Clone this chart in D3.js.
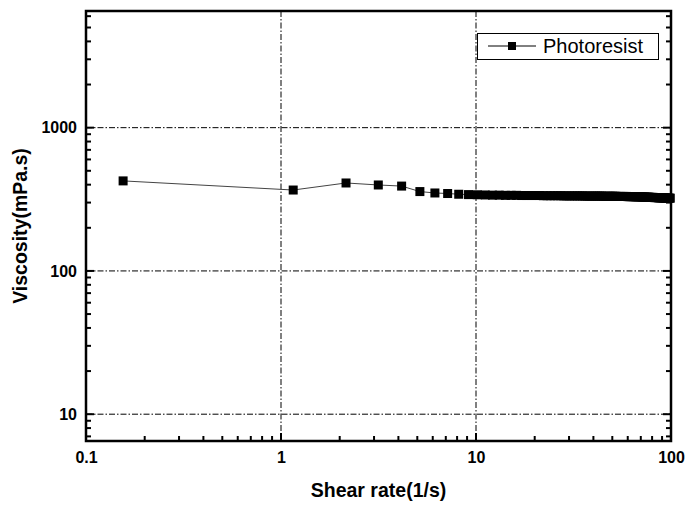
<!DOCTYPE html>
<html>
<head>
<meta charset="utf-8">
<script src="https://cdn.jsdelivr.net/npm/d3@7"></script>
<style>
  html, body { margin: 0; padding: 0; background: #fff; }
  svg { display: block; }
  text { font-family: "Liberation Sans", Arial, sans-serif; }
</style>
</head>
<body>
<svg id="chart" width="699" height="513"></svg>
<script>
// ---- data ----
const shearRate = [
  0.155, 1.155, 2.155, 3.155, 4.155, 5.155, 6.155, 7.155, 8.155, 9.155,
  10.155, 11.155, 12.155, 13.155, 14.155, 15.155, 16.155, 17.155, 18.155, 19.155,
  20.155, 21.155, 22.155, 23.155, 24.155, 25.155, 26.155, 27.155, 28.155, 29.155,
  30.155, 31.155, 32.155, 33.155, 34.155, 35.155, 36.155, 37.155, 38.155, 39.155,
  40.155, 41.155, 42.155, 43.155, 44.155, 45.155, 46.155, 47.155, 48.155, 49.155,
  50.155, 51.155, 52.155, 53.155, 54.155, 55.155, 56.155, 57.155, 58.155, 59.155,
  60.155, 61.155, 62.155, 63.155, 64.155, 65.155, 66.155, 67.155, 68.155, 69.155,
  70.155, 71.155, 72.155, 73.155, 74.155, 75.155, 76.155, 77.155, 78.155, 79.155,
  80.155, 81.155, 82.155, 83.155, 84.155, 85.155, 86.155, 87.155, 88.155, 89.155,
  90.155, 91.155, 92.155, 93.155, 94.155, 95.155, 96.155, 97.155, 98.155, 99.155
];
const viscosity = [
  425, 367, 411, 398, 391, 358, 350, 347, 343, 341,
  340, 339, 338, 338, 337, 337, 337, 336, 336, 336,
  336, 336, 335, 335, 335, 335, 335, 335, 334, 334,
  334, 334, 334, 334, 334, 334, 333, 333, 333, 333,
  333, 333, 333, 333, 333, 332, 332, 332, 332, 332,
  332, 332, 332, 331, 331, 331, 331, 331, 331, 331,
  330, 330, 330, 330, 330, 330, 329, 329, 329, 329,
  329, 328, 328, 328, 327, 327, 327, 327, 326, 326,
  326, 326, 325, 325, 325, 325, 324, 324, 324, 324,
  324, 323, 323, 323, 323, 322, 322, 322, 322, 322
];
const seriesName = "Photoresist";
const xTickValues = [0.1, 1, 10, 100];
const xTickLabels = ["0.1", "1", "10", "100"];
const yTickValues = [10, 100, 1000];
const yTickLabels = ["10", "100", "1000"];
const xTitle = "Shear rate(1/s)";
const yTitle = "Viscosity(mPa.s)";

// ---- layout ----
const W = 699, H = 513;
const margin = { left: 86, top: 11, right: 28, bottom: 72 };
const pw = W - margin.left - margin.right;
const ph = H - margin.top - margin.bottom;

const svg = d3.select("#chart");
const g = svg.append("g").attr("transform", `translate(${margin.left},${margin.top})`);

const x = d3.scaleLog().domain([0.1, 100]).range([0, pw]);
const y = d3.scaleLog().domain([6.5, 6520]).range([ph, 0]);

// gridlines
const dash = "6,2,1.5,2";
g.selectAll(".gx").data([1, 10]).enter().append("line")
  .attr("x1", d => x(d)).attr("x2", d => x(d))
  .attr("y1", 0).attr("y2", ph)
  .attr("stroke", "#000").attr("stroke-width", 1).attr("stroke-dasharray", dash);
g.selectAll(".gy").data(yTickValues).enter().append("line")
  .attr("x1", 0).attr("x2", pw)
  .attr("y1", d => y(d)).attr("y2", d => y(d))
  .attr("stroke", "#000").attr("stroke-width", 1).attr("stroke-dasharray", dash);

// minor/major ticks
const xMinor = [];
[0.1, 1, 10].forEach(b => { for (let i = 2; i <= 9; i++) xMinor.push(b * i); });
const yMinor = [];
[1, 10, 100, 1000].forEach(b => { for (let i = 2; i <= 9; i++) { const v = b * i; if (v >= 6.5 && v <= 6520) yMinor.push(v); } });

const tickG = g.append("g").attr("stroke", "#000").attr("stroke-width", 2);
tickG.selectAll(".bm").data(xMinor).enter().append("line")
  .attr("x1", d => x(d)).attr("x2", d => x(d)).attr("y1", ph).attr("y2", ph - 5);
tickG.selectAll(".bM").data([1, 10]).enter().append("line")
  .attr("x1", d => x(d)).attr("x2", d => x(d)).attr("y1", ph).attr("y2", ph - 8);
tickG.selectAll(".lm").data(yMinor).enter().append("line")
  .attr("x1", 0).attr("x2", 5).attr("y1", d => y(d)).attr("y2", d => y(d));
tickG.selectAll(".lM").data(yTickValues).enter().append("line")
  .attr("x1", 0).attr("x2", 8).attr("y1", d => y(d)).attr("y2", d => y(d));
tickG.selectAll(".rm").data(yMinor).enter().append("line")
  .attr("x1", pw).attr("x2", pw - 5).attr("y1", d => y(d)).attr("y2", d => y(d));
tickG.selectAll(".rM").data(yTickValues).enter().append("line")
  .attr("x1", pw).attr("x2", pw - 8).attr("y1", d => y(d)).attr("y2", d => y(d));

// frame
g.append("rect").attr("x", 0).attr("y", 0).attr("width", pw).attr("height", ph)
  .attr("fill", "none").attr("stroke", "#000").attr("stroke-width", 2.5);

// tick labels
const xAxis = d3.axisBottom(x).tickValues(xTickValues)
  .tickFormat((d, i) => xTickLabels[i]).tickSize(0).tickPadding(11);
const xa = g.append("g").attr("transform", `translate(0,${ph})`).call(xAxis);
xa.select(".domain").remove();
xa.selectAll("text").attr("font-size", 16).attr("font-weight", "bold").attr("fill", "#000")
  .attr("font-family", "'Liberation Sans', Arial, sans-serif");

const yAxis = d3.axisLeft(y).tickValues(yTickValues)
  .tickFormat((d, i) => yTickLabels[i]).tickSize(0).tickPadding(9);
const ya = g.append("g").call(yAxis);
ya.select(".domain").remove();
ya.selectAll("text").attr("font-size", 16).attr("font-weight", "bold").attr("fill", "#000")
  .attr("font-family", "'Liberation Sans', Arial, sans-serif");

// data
const data = shearRate.map((v, i) => ({ x: v, y: viscosity[i] }));
const line = d3.line().x(d => x(d.x)).y(d => y(d.y));
g.append("path").datum(data).attr("d", line)
  .attr("fill", "none").attr("stroke", "#444").attr("stroke-width", 1);
const ms = 9;
g.selectAll(".pt").data(data).enter().append("rect")
  .attr("x", d => x(d.x) - ms / 2).attr("y", d => y(d.y) - ms / 2)
  .attr("width", ms).attr("height", ms).attr("fill", "#000");

// axis titles
svg.append("text").attr("x", margin.left + pw / 2).attr("y", 497)
  .attr("text-anchor", "middle").attr("font-size", 19.5).attr("font-weight", "bold")
  .text(xTitle);
svg.append("text").attr("transform", `translate(27,${margin.top + ph / 2}) rotate(-90)`)
  .attr("text-anchor", "middle").attr("font-size", 19.5).attr("font-weight", "bold")
  .text(yTitle);

// legend
const lg = svg.append("g");
lg.append("rect").attr("x", 477.5).attr("y", 33.5).attr("width", 181).attr("height", 26)
  .attr("fill", "#fff").attr("stroke", "#000").attr("stroke-width", 1);
lg.append("line").attr("x1", 488).attr("x2", 536).attr("y1", 46).attr("y2", 46)
  .attr("stroke", "#000").attr("stroke-width", 1);
lg.append("rect").attr("x", 512 - 4).attr("y", 46 - 4).attr("width", 8).attr("height", 8).attr("fill", "#000");
lg.append("text").attr("x", 543).attr("y", 53).attr("font-size", 20).attr("fill", "#000")
  .text(seriesName);
</script>
</body>
</html>
